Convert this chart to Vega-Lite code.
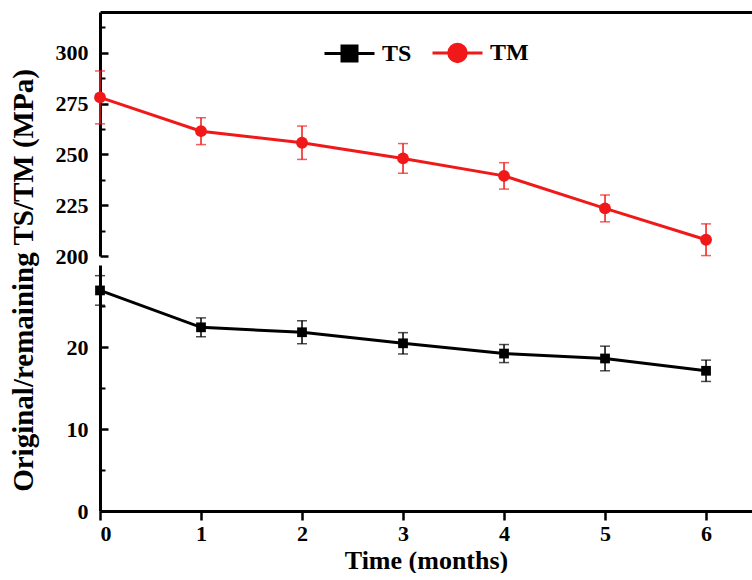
{
  "$schema": "https://vega.github.io/schema/vega-lite/v6.json",
  "autosize": {"type": "pad"},
  "padding": {"left": 8, "top": 12, "right": 0, "bottom": 0},
  "background": "white",
  "spacing": 9,
  "bounds": "flush",
  "config": {
    "view": {"stroke": null},
    "font": "Liberation Serif",
    "axis": {
      "grid": false,
      "domainColor": "black",
      "domainWidth": 3,
      "tickColor": "black",
      "tickWidth": 2.5,
      "labelFont": "Liberation Serif",
      "labelFontWeight": "bold",
      "labelFontSize": 22,
      "labelColor": "black",
      "titleFont": "Liberation Serif",
      "titleFontWeight": "bold",
      "titleColor": "black"
    }
  },
  "datasets": {
    "tm": [
      {"t": 0, "v": 278.0, "e": 13.0, "s": "TM"},
      {"t": 1, "v": 261.4, "e": 6.6, "s": "TM"},
      {"t": 2, "v": 255.7, "e": 8.2, "s": "TM"},
      {"t": 3, "v": 248.0, "e": 7.3, "s": "TM"},
      {"t": 4, "v": 239.4, "e": 6.5, "s": "TM"},
      {"t": 5, "v": 223.4, "e": 6.6, "s": "TM"},
      {"t": 6, "v": 208.0, "e": 7.8, "s": "TM"}
    ],
    "ts": [
      {"t": 0, "v": 26.9, "e": 1.8, "s": "TS"},
      {"t": 1, "v": 22.4, "e": 1.15, "s": "TS"},
      {"t": 2, "v": 21.8, "e": 1.4, "s": "TS"},
      {"t": 3, "v": 20.45, "e": 1.3, "s": "TS"},
      {"t": 4, "v": 19.2, "e": 1.1, "s": "TS"},
      {"t": 5, "v": 18.6, "e": 1.5, "s": "TS"},
      {"t": 6, "v": 17.1, "e": 1.3, "s": "TS"}
    ]
  },
  "resolve": {"scale": {"color": "independent", "y": "independent"}, "legend": {"color": "independent"}},
  "vconcat": [
    {
      "width": 652,
      "height": 244,
      "data": {"name": "tm"},
      "encoding": {
        "x": {
          "field": "t", "type": "quantitative",
          "scale": {"domain": [0, 6.455], "nice": false, "zero": false},
          "axis": {"orient": "top", "labels": false, "ticks": false, "title": null, "domainWidth": 3}
        }
      },
      "resolve": {"axis": {"y": "independent"}},
      "layer": [
        {
          "mark": {"type": "errorbar", "color": "#f01818", "ticks": true, "size": 10, "thickness": 1.5},
          "encoding": {
            "y": {"field": "v", "type": "quantitative", "scale": {"domain": [200, 320], "nice": false, "zero": false}, "axis": null},
            "yError": {"field": "e"}
          }
        },
        {
          "mark": {"type": "line", "strokeWidth": 3},
          "encoding": {
            "y": {"field": "v", "type": "quantitative",
              "axis": {"orient": "left", "values": [212.5, 237.5, 262.5, 287.5, 312.5], "labels": false, "domain": false, "title": null, "tickSize": -5, "tickWidth": 2}},
            "color": {
              "field": "s", "type": "nominal",
              "scale": {"domain": ["TS", "TM"], "range": ["black", "#f01818"]},
              "legend": {
                "orient": "none", "legendX": 223, "legendY": 14, "direction": "horizontal", "title": null,
                "symbolSize": 2500, "symbolStrokeWidth": 3,
                "symbolType": {"expr": "datum.value === 'TS' ? 'M-1,0H1M-0.3,-0.3H0.3V0.3H-0.3Z' : 'M-1,0H1M-0.35,0A0.35,0.35 0 1,0 0.35,0A0.35,0.35 0 1,0 -0.35,0Z'"},
                "symbolFillColor": {"expr": "datum.value === 'TS' ? 'black' : '#f01818'"},
                "symbolStrokeColor": {"expr": "datum.value === 'TS' ? 'black' : '#f01818'"},
                "symbolOpacity": 1,
                "labelFont": "Liberation Serif", "labelFontWeight": "bold", "labelFontSize": 24, "labelColor": "black",
                "labelOffset": 6, "columnPadding": 14, "padding": 0
              }
            }
          }
        },
        {
          "mark": {"type": "point", "filled": true, "shape": "circle", "size": 140, "opacity": 1, "color": "#f01818"},
          "encoding": {
            "y": {"field": "v", "type": "quantitative",
              "axis": {"orient": "left", "values": [200, 225, 250, 275, 300], "title": null, "tickSize": -8, "labelPadding": 20, "format": "d"}}
          }
        }
      ]
    },
    {
      "width": 652,
      "height": 246,
      "data": {"name": "ts"},
      "encoding": {
        "x": {
          "field": "t", "type": "quantitative",
          "scale": {"domain": [0, 6.455], "nice": false, "zero": false},
          "axis": {"values": [0, 1, 2, 3, 4, 5, 6], "format": "d", "title": "Time (months)", "titleFontSize": 26, "tickSize": 9, "labelPadding": 3, "titlePadding": 3}
        }
      },
      "resolve": {"axis": {"y": "independent"}},
      "layer": [
        {
          "mark": {"type": "errorbar", "color": "black", "ticks": true, "size": 10, "thickness": 1.5},
          "encoding": {
            "y": {"field": "v", "type": "quantitative", "scale": {"domain": [0, 30], "nice": false, "zero": true}, "axis": null},
            "yError": {"field": "e"}
          }
        },
        {
          "mark": {"type": "line", "color": "black", "strokeWidth": 3},
          "encoding": {
            "y": {"field": "v", "type": "quantitative",
              "axis": {"orient": "left", "values": [5, 15, 25], "labels": false, "domain": false, "title": null, "tickSize": -5, "tickWidth": 2}}
          }
        },
        {
          "mark": {"type": "point", "filled": true, "shape": "square", "size": 95, "opacity": 1, "color": "black"},
          "encoding": {
            "y": {"field": "v", "type": "quantitative",
              "axis": {"orient": "left", "values": [0, 10, 20], "format": "d", "tickSize": -8, "labelPadding": 20,
                "title": "Original/remaining TS/TM (MPa)", "titleFontSize": 29, "titleAngle": -90,
                "titleX": -68, "titleY": 15, "titleAlign": "center", "titleBaseline": "alphabetic"}}
          }
        }
      ]
    }
  ]
}
